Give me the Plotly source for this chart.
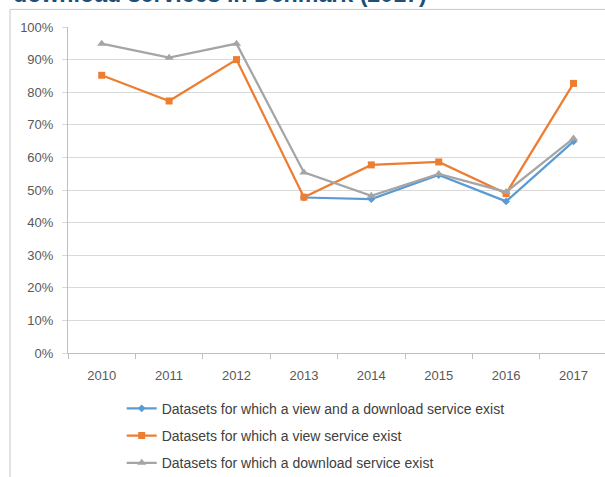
import plotly.graph_objects as go

years = ["2010", "2011", "2012", "2013", "2014", "2015", "2016", "2017"]
view_and_download = [None, None, None, 47.7, 47.2, 54.6, 46.5, 64.9]
view_only = [85.2, 77.3, 90.0, 47.8, 57.7, 58.6, 48.9, 82.7]
download_only = [94.9, 90.6, 94.9, 55.4, 48.2, 54.9, 49.4, 65.8]
y_ticks = [0, 10, 20, 30, 40, 50, 60, 70, 80, 90, 100]
y_tick_labels = ["0%", "10%", "20%", "30%", "40%", "50%", "60%", "70%", "80%", "90%", "100%"]
names = [
    "Datasets for which a view and a download service exist",
    "Datasets for which a view service exist",
    "Datasets for which a download service exist",
]
title_text = "download services in Denmark (2017)"

FONT = "Liberation Sans, Arial, sans-serif"
fig = go.Figure()
fig.add_trace(go.Scatter(x=years, y=view_and_download, name=names[0], mode="lines+markers",
                         line=dict(color="#5B9BD5", width=2.25),
                         marker=dict(symbol="diamond", size=6, color="#5B9BD5"),
                         legendgroup="a"))
fig.add_trace(go.Scatter(x=years, y=view_only, name=names[1], mode="lines+markers",
                         line=dict(color="#ED7D31", width=2.25),
                         marker=dict(symbol="square", size=7, color="#ED7D31"),
                         legendgroup="b"))
fig.add_trace(go.Scatter(x=years, y=download_only, name=names[2], mode="lines+markers",
                         line=dict(color="#A5A5A5", width=2.25),
                         marker=dict(symbol="triangle-up", size=8, color="#A5A5A5"),
                         legendgroup="c"))

fig.update_layout(
    width=605, height=477,
    margin=dict(l=68, r=0, t=27, b=124, pad=0, autoexpand=False),
    paper_bgcolor="white", plot_bgcolor="white",
    font=dict(family=FONT, size=13, color="#595959"),
    showlegend=True,
    legend=dict(x=0.1, xanchor="left", y=-0.122, yanchor="top",
                font=dict(size=14, color="#404040"), tracegroupgap=6,
                bgcolor="rgba(0,0,0,0)", itemclick=False),
    xaxis=dict(type="category", range=[-0.5, 7.467], tickson="boundaries",
               ticks="outside", ticklen=5, tickcolor="#BFBFBF",
               showline=True, linecolor="#BFBFBF", linewidth=1,
               showgrid=False, ticklabelstandoff=10, zeroline=False),
    yaxis=dict(range=[0, 100], tickvals=y_ticks, ticktext=y_tick_labels,
               ticks="outside", ticklen=5, tickcolor="#D9D9D9",
               showline=True, linecolor="#BFBFBF", linewidth=1,
               gridcolor="#D9D9D9", gridwidth=1, zeroline=False,
               ticklabelstandoff=6),
)

# chart frame
fig.add_shape(type="rect", xref="paper", yref="paper",
              x0=-0.108, x1=1.2, y0=-0.6, y1=1.054,
              line=dict(color="#C8C8C8", width=1), fillcolor="rgba(0,0,0,0)", layer="below")

fig.add_annotation(text="<b>" + title_text + "</b>", xref="paper", yref="paper",
                   x=-0.107, y=1.056, xanchor="left", yanchor="bottom", showarrow=False,
                   font=dict(family=FONT, size=23.2, color="#1F4E79"))

fig.write_html("out.html", config={"displayModeBar": False},
               post_script="document.body.style.margin='0';document.body.style.overflow='hidden';")
